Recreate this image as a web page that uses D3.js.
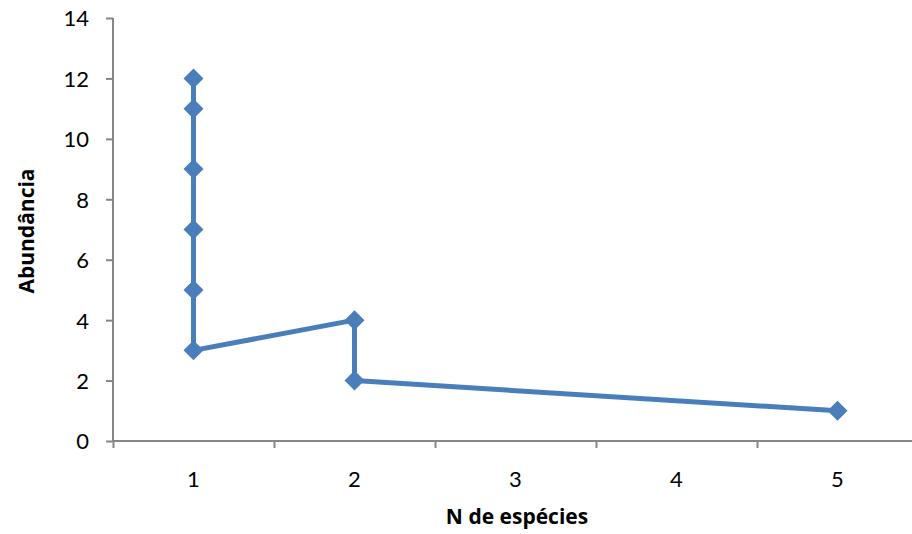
<!DOCTYPE html>
<html>
<head>
<meta charset="utf-8">
<script src="https://cdn.jsdelivr.net/npm/d3@7"></script>
<style>
  body { margin: 0; background: #fff; }
  text { font-family: Lato, "Open Sans", sans-serif; fill: #000; }
  .title { font-family: "Open Sans", Lato, sans-serif; font-weight: bold; }
</style>
</head>
<body>
<svg id="chart" width="912" height="534"></svg>
<script>
// data
var especies   = [1, 1, 1, 1, 1, 1, 2, 2, 5];
var abundancia = [12, 11, 9, 7, 5, 3, 4, 2, 1];
var xTicks = [1, 2, 3, 4, 5];
var yTicks = [0, 2, 4, 6, 8, 10, 12, 14];

var svg = d3.select("#chart");
var axisColor = "#868686", lineColor = "#4a7ebb";

var x = d3.scaleLinear().domain([0.5, 5.5]).range([113, 918]);
var y = d3.scaleLinear().domain([0, 14]).range([441, 18]);

// y axis
var yAxis = svg.append("g").attr("transform", "translate(113,0)")
	.call(d3.axisLeft(y).tickValues(yTicks).tickSize(7).tickPadding(17).tickFormat(d3.format("d")));
yAxis.select(".domain").attr("stroke", axisColor).attr("stroke-width", 2).attr("d", "M0," + y(14) + "V" + y(0));
yAxis.selectAll(".tick line").attr("stroke", axisColor).attr("stroke-width", 2);
yAxis.selectAll(".tick text").style("font-size", "22px").attr("dy", "0.36em");

// x axis - tick marks sit between the labels
var xAxis = svg.append("g").attr("transform", "translate(0," + y(0) + ")")
	.call(d3.axisBottom(x).tickValues([0.5, 1.5, 2.5, 3.5, 4.5, 5.5]).tickSize(7).tickFormat(""));
xAxis.select(".domain").attr("stroke", axisColor).attr("stroke-width", 2).attr("d", "M" + x(0.5) + ",0H" + x(5.5));
xAxis.selectAll(".tick line").attr("stroke", axisColor).attr("stroke-width", 2);

svg.append("g").selectAll("text").data(xTicks).join("text")
	.attr("x", function(d) { return x(d); })
	.attr("y", y(0) + 46)
	.attr("text-anchor", "middle")
	.style("font-size", "22px")
	.text(function(d) { return d; });

// titles
svg.append("text").attr("class", "title").attr("x", 517).attr("y", 524).attr("text-anchor", "middle")
	.style("font-size", "21px").text("N de espécies");
svg.append("text").attr("class", "title").attr("transform", "translate(34,231) rotate(-90)").attr("text-anchor", "middle")
	.style("font-size", "21px").text("Abundância");

// series
var pts = especies.map(function(d, i) { return [d, abundancia[i]]; });
svg.append("path").datum(pts)
	.attr("fill", "none").attr("stroke", lineColor).attr("stroke-width", 5).attr("stroke-linejoin", "round")
	.attr("d", d3.line().x(function(d) { return x(d[0]); }).y(function(d) { return y(d[1]); }));

svg.append("g").selectAll("path").data(pts).join("path")
	.attr("fill", lineColor)
	.attr("transform", function(d) { return "translate(" + x(d[0]) + "," + y(d[1]) + ")"; })
	.attr("d", "M0,-10L10,0L0,10L-10,0Z");
</script>
</body>
</html>
